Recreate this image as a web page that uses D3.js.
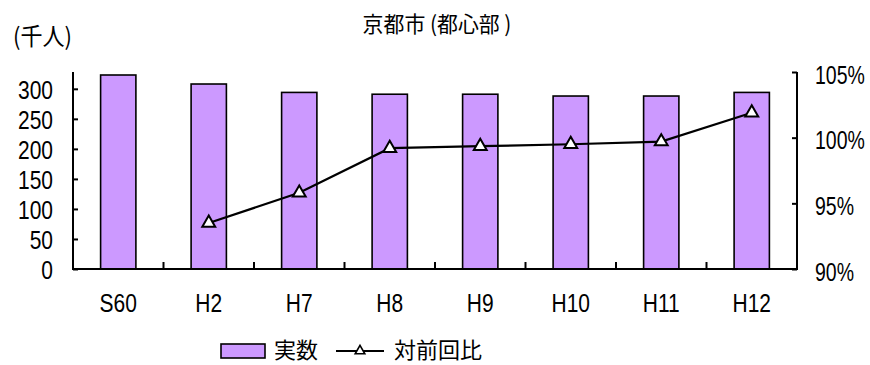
<!DOCTYPE html>
<html><head><meta charset="utf-8">
<script src="https://cdn.jsdelivr.net/npm/d3@7"></script>
<style>
html,body{margin:0;padding:0;background:#fff;}
svg{display:block;}
.num{font-family:"Liberation Sans",Arial,sans-serif;}
.cjk{font-family:"Noto Sans CJK JP","Noto Sans CJK SC",sans-serif;}
</style></head>
<body>
<script>
const categories = ["S60","H2","H7","H8","H9","H10","H11","H12"];
const actual = [323, 308, 294, 291, 291, 288, 288, 294];
const ratio = [null, 93.5, 95.8, 99.2, 99.35, 99.5, 99.7, 101.9];
const leftTicks = [0,50,100,150,200,250,300];
const rightTicks = [90,95,100,105];
const title = "京都市 (都心部 )";
const unitLabel = "(千人)";
const legendLabels = ["実数","対前回比"];

const W=870,H=365;
const svg=d3.select("body").append("svg").attr("width",W).attr("height",H);
const x0=73, x1=797, yTop=72, yBot=269;
const SX=0.84, FS=25;

const x=d3.scaleBand().domain(categories).range([x0,x1]).paddingInner(0.61).paddingOuter(0.305);
const yL=d3.scaleLinear().domain([0,328]).range([yBot,yTop]);
const yR=d3.scaleLinear().domain([90,105]).range([yBot,yTop]);

// bars
svg.append("g").selectAll("rect").data(actual).join("rect")
  .attr("x",(d,i)=>x(categories[i])).attr("width",x.bandwidth())
  .attr("y",d=>yL(d)).attr("height",d=>yBot-yL(d))
  .attr("fill","#CC99FF").attr("stroke","#000").attr("stroke-width",1.6);

// left axis
const gl=svg.append("g").attr("transform",`translate(${x0},0)`)
  .call(d3.axisRight(yL).tickValues(leftTicks).tickSize(5).tickFormat(""));
gl.select(".domain").attr("d",`M0,${yTop}V${yBot}`).attr("stroke-width",2);
gl.selectAll(".tick line").attr("stroke-width",2);
svg.append("g").selectAll("text").data(leftTicks).join("text")
  .attr("class","num").attr("transform",d=>`translate(53,${yL(d)+1}) scale(${SX},1)`)
  .attr("dy","0.35em").attr("text-anchor","end").attr("font-size",FS).text(d=>d);

// right axis
const gr=svg.append("g").attr("transform",`translate(${x1},0)`)
  .call(d3.axisLeft(yR).tickValues(rightTicks).tickSize(5).tickFormat(""));
gr.select(".domain").attr("d",`M0,${yTop}V${yBot}`).attr("stroke-width",2);
gr.selectAll(".tick line").attr("stroke-width",2);
svg.append("g").selectAll("text").data(rightTicks).join("text")
  .attr("class","num").attr("transform",d=>`translate(815,${yR(d)+3}) scale(0.78,1)`)
  .attr("dy","0.35em").attr("text-anchor","start").attr("font-size",FS).text(d=>d+"%");

// bottom axis
const step=x.step();
const gb=svg.append("g").attr("transform",`translate(0,${yBot})`);
gb.append("line").attr("x1",x0-1).attr("x2",x1+1).attr("stroke","#000").attr("stroke-width",2);
gb.selectAll("line.t").data(d3.range(1,categories.length+1)).join("line").attr("class","t")
  .attr("x1",i=>x0+i*step).attr("x2",i=>x0+i*step).attr("y1",0).attr("y2",-7)
  .attr("stroke","#000").attr("stroke-width",2);
gb.selectAll("text").data(categories).join("text")
  .attr("class","num").attr("transform",d=>`translate(${x(d)+x.bandwidth()/2},34) scale(${SX},1)`)
  .attr("dy","0.35em").attr("text-anchor","middle").attr("font-size",FS).text(d=>d);

// line
const pts=ratio.map((v,i)=>({c:categories[i],v})).filter(d=>d.v!=null);
const cx=d=>x(d.c)+x.bandwidth()/2;
svg.append("path").datum(pts)
  .attr("d",d3.line().x(cx).y(d=>yR(d.v)))
  .attr("fill","none").attr("stroke","#000").attr("stroke-width",2.2);
const tri=d3.symbol().type(d3.symbolTriangle).size(72);
svg.append("g").selectAll("path").data(pts).join("path")
  .attr("transform",d=>`translate(${cx(d)},${yR(d.v)})`)
  .attr("d",tri).attr("fill","#fff").attr("stroke","#000").attr("stroke-width",2);

// title
svg.append("text").attr("class","cjk").attr("transform","translate(437,24) scale(0.95,1)").attr("dy","0.35em")
  .attr("text-anchor","middle").attr("font-size",22).text(title);
svg.append("text").attr("class","cjk").attr("transform","translate(13,37) scale(0.92,1)").attr("dy","0.35em")
  .attr("font-size",24).text(unitLabel);

// legend
const ly=350;
svg.append("rect").attr("x",221).attr("y",ly-6).attr("width",44).attr("height",14)
  .attr("fill","#CC99FF").attr("stroke","#000").attr("stroke-width",1.6);
svg.append("text").attr("class","cjk").attr("x",274).attr("y",ly).attr("dy","0.35em")
  .attr("font-size",22).text(legendLabels[0]);
svg.append("line").attr("x1",336).attr("x2",384).attr("y1",ly+1).attr("y2",ly+1)
  .attr("stroke","#000").attr("stroke-width",1.8);
svg.append("path").attr("transform",`translate(360,${ly+1})`)
  .attr("d",d3.symbol().type(d3.symbolTriangle).size(40)).attr("fill","#fff")
  .attr("stroke","#000").attr("stroke-width",1.6);
svg.append("text").attr("class","cjk").attr("x",394).attr("y",ly).attr("dy","0.35em")
  .attr("font-size",22).text(legendLabels[1]);
</script>
</body></html>
